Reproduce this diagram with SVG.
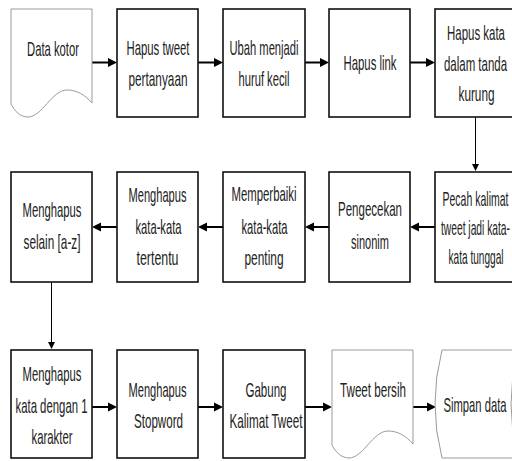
<svg xmlns="http://www.w3.org/2000/svg" width="512" height="461" viewBox="0 0 512 461">
<style>
.box{fill:#fff;stroke:#111;stroke-width:1.6}
.doc{fill:#fff;stroke:#9a9a9a;stroke-width:1}
.t{font-family:"Liberation Sans",Arial,sans-serif;font-size:21px;fill:#222;text-anchor:middle}
.ah{stroke:#000;stroke-width:2;fill:none;marker-end:url(#arr)}
.av{stroke:#000;stroke-width:1;fill:none;marker-end:url(#arrs)}
</style>
<defs>
<marker id="arr" viewBox="0 0 10 10" refX="0" refY="5" markerWidth="9" markerHeight="10" markerUnits="userSpaceOnUse" orient="auto"><path d="M0,0 L10,5 L0,10 z" fill="#000"/></marker>
<marker id="arrs" viewBox="0 0 10 10" refX="0" refY="5" markerWidth="8" markerHeight="7" markerUnits="userSpaceOnUse" orient="auto"><path d="M0,0 L10,5 L0,10 z" fill="#000"/></marker>
<path id="docshape" d="M11,9 H92 V103 C85,95 77,90 67,90 C52,90 42,117 28,117 C21,117 15,112 11,104 Z"/>
</defs>
<rect width="512" height="461" fill="#fff"/>

<g id="connectors">
<line class="ah" x1="92" y1="62.5" x2="108" y2="62.5"/>
<line class="ah" x1="198" y1="62.5" x2="214" y2="62.5"/>
<line class="ah" x1="305" y1="62.5" x2="320" y2="62.5"/>
<line class="ah" x1="410" y1="62.5" x2="426" y2="62.5"/>
<line class="av" x1="475.5" y1="117" x2="475.5" y2="164"/>
<line class="ah" x1="435" y1="227" x2="419" y2="227"/>
<line class="ah" x1="329" y1="227" x2="314" y2="227"/>
<line class="ah" x1="223" y1="227" x2="207" y2="227"/>
<line class="ah" x1="117" y1="227" x2="101" y2="227"/>
<line class="av" x1="51.5" y1="282" x2="51.5" y2="342"/>
<line class="ah" x1="92" y1="407" x2="108" y2="407"/>
<line class="ah" x1="198" y1="407" x2="214" y2="407"/>
<line class="ah" x1="305" y1="407" x2="323" y2="407"/>
<line class="ah" x1="413" y1="407" x2="427" y2="407"/>
</g>

<g id="n1"><use href="#docshape" class="doc"/><text class="t" x="53" y="56" textLength="52" lengthAdjust="spacingAndGlyphs">Data kotor</text></g>
<g id="n2"><rect class="box" x="117" y="9" width="81" height="108"/><text class="t" x="158" y="55" textLength="63" lengthAdjust="spacingAndGlyphs">Hapus tweet</text><text class="t" x="158" y="86" textLength="59" lengthAdjust="spacingAndGlyphs">pertanyaan</text></g>
<g id="n3"><rect class="box" x="223" y="9" width="82" height="108"/><text class="t" x="264" y="55" textLength="69" lengthAdjust="spacingAndGlyphs">Ubah menjadi</text><text class="t" x="264" y="86" textLength="51" lengthAdjust="spacingAndGlyphs">huruf kecil</text></g>
<g id="n4"><rect class="box" x="329" y="9" width="81" height="108"/><text class="t" x="370" y="70" textLength="53" lengthAdjust="spacingAndGlyphs">Hapus link</text></g>
<g id="n5"><rect class="box" x="435" y="9" width="82" height="108"/><text class="t" x="476" y="40" textLength="58" lengthAdjust="spacingAndGlyphs">Hapus kata</text><text class="t" x="475.5" y="71" textLength="63" lengthAdjust="spacingAndGlyphs">dalam tanda</text><text class="t" x="476.5" y="101" textLength="36" lengthAdjust="spacingAndGlyphs">kurung</text></g>

<g id="n6"><rect class="box" x="435" y="172" width="82" height="110"/><text class="t" x="475.5" y="206" textLength="66" lengthAdjust="spacingAndGlyphs">Pecah kalimat</text><text class="t" x="475.5" y="235" textLength="69" lengthAdjust="spacingAndGlyphs">tweet jadi kata-</text><text class="t" x="476" y="264" textLength="55" lengthAdjust="spacingAndGlyphs">kata tunggal</text></g>
<g id="n7"><rect class="box" x="329" y="172" width="81" height="110"/><text class="t" x="370" y="216" textLength="64" lengthAdjust="spacingAndGlyphs">Pengecekan</text><text class="t" x="370" y="249" textLength="38" lengthAdjust="spacingAndGlyphs">sinonim</text></g>
<g id="n8"><rect class="box" x="223" y="172" width="82" height="110"/><text class="t" x="264" y="201" textLength="65" lengthAdjust="spacingAndGlyphs">Memperbaiki</text><text class="t" x="264.5" y="234" textLength="46" lengthAdjust="spacingAndGlyphs">kata-kata</text><text class="t" x="264" y="265" textLength="39" lengthAdjust="spacingAndGlyphs">penting</text></g>
<g id="n9"><rect class="box" x="117" y="172" width="81" height="110"/><text class="t" x="157.5" y="202" textLength="58" lengthAdjust="spacingAndGlyphs">Menghapus</text><text class="t" x="158.5" y="234" textLength="46" lengthAdjust="spacingAndGlyphs">kata-kata</text><text class="t" x="157.5" y="265" textLength="42" lengthAdjust="spacingAndGlyphs">tertentu</text></g>
<g id="n10"><rect class="box" x="11" y="172" width="81" height="110"/><text class="t" x="52" y="217" textLength="59" lengthAdjust="spacingAndGlyphs">Menghapus</text><text class="t" x="52" y="249" textLength="57" lengthAdjust="spacingAndGlyphs">selain [a-z]</text></g>

<g id="n11"><rect class="box" x="11" y="350" width="81" height="108"/><text class="t" x="52" y="381" textLength="59" lengthAdjust="spacingAndGlyphs">Menghapus</text><text class="t" x="51.5" y="413" textLength="72" lengthAdjust="spacingAndGlyphs">kata dengan 1</text><text class="t" x="52" y="444" textLength="41" lengthAdjust="spacingAndGlyphs">karakter</text></g>
<g id="n12"><rect class="box" x="117" y="350" width="81" height="108"/><text class="t" x="157.5" y="397" textLength="58" lengthAdjust="spacingAndGlyphs">Menghapus</text><text class="t" x="158.5" y="428" textLength="49" lengthAdjust="spacingAndGlyphs">Stopword</text></g>
<g id="n13"><rect class="box" x="223" y="350" width="82" height="108"/><text class="t" x="266" y="397" textLength="41" lengthAdjust="spacingAndGlyphs">Gabung</text><text class="t" x="266" y="428" textLength="73" lengthAdjust="spacingAndGlyphs">Kalimat Tweet</text></g>
<g id="n14"><use href="#docshape" class="doc" transform="translate(321,341)"/><text class="t" x="373" y="397" textLength="66" lengthAdjust="spacingAndGlyphs">Tweet bersih</text></g>
<g id="n15"><path class="doc" d="M442,350 H518 Q504,404 518,458 H442 Q428,404 442,350 Z"/><text class="t" x="475" y="412" textLength="63" lengthAdjust="spacingAndGlyphs">Simpan data</text></g>
</svg>
